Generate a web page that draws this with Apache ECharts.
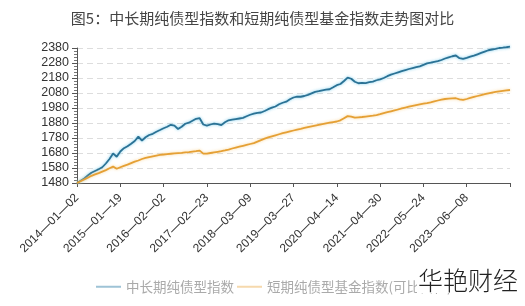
<!DOCTYPE html>
<html><head><meta charset="utf-8">
<script src="https://cdn.jsdelivr.net/npm/echarts@6/dist/echarts.min.js"></script>
<style>html,body{margin:0;padding:0;background:#fff}#c{width:525px;height:306px}</style>
</head><body><div id="c"></div>
<script>
var titleText = '图5：中长期纯债型指数和短期纯债型基金指数走势图对比';
var seriesNames = ['中长期纯债型指数', '短期纯债型基金指数(可比口径)'];
var tickLabels = ['2014-01-02','2015-01-19','2016-02-02','2017-02-23','2018-03-09','2019-03-27','2020-04-14','2021-04-30','2022-05-24','2023-06-08','2024-06-21'];
var yTicks = [1480,1580,1680,1780,1880,1980,2080,2180,2280,2380];
var longBond = [1480,1495,1510,1530,1548,1560,1572,1585,1610,1640,1677,1655,1690,1712,1725,1742,1760,1789,1762,1785,
1800,1808,1822,1833,1845,1855,1868,1862,1840,1855,1875,1882,1895,1908,1912,1870,1862,1870,1876,1872,
1866,1885,1898,1902,1906,1910,1914,1925,1935,1942,1948,1950,1960,1972,1982,1990,2005,2015,2022,2038,
2050,2056,2055,2060,2068,2078,2088,2092,2098,2102,2105,2118,2132,2140,2160,2182,2175,2155,2145,2148,
2146,2152,2156,2165,2171,2180,2192,2202,2210,2218,2226,2233,2240,2246,2252,2258,2268,2278,2282,2288,
2293,2300,2310,2318,2325,2330,2312,2307,2314,2322,2329,2338,2347,2356,2365,2370,2374,2380,2382,2385,2389];
var shortBond = [1480,1492,1503,1515,1528,1537,1546,1556,1566,1578,1589,1575,1585,1594,1602,1612,1622,1630,1640,1648,
1653,1658,1663,1667,1670,1673,1675,1677,1679,1681,1684,1686,1689,1692,1696,1676,1676,1680,1684,1688,
1692,1697,1703,1710,1716,1722,1728,1734,1740,1746,1756,1766,1776,1784,1791,1798,1805,1812,1818,1824,
1830,1836,1841,1847,1853,1858,1863,1868,1873,1878,1882,1886,1890,1898,1912,1926,1922,1916,1918,1920,
1923,1926,1929,1933,1939,1946,1952,1958,1964,1970,1977,1983,1989,1994,1999,2004,2009,2013,2018,2024,
2030,2036,2040,2042,2044,2045,2038,2034,2040,2047,2054,2060,2066,2072,2078,2083,2087,2091,2094,2097,2100];
var STEP = 12;
var categories = [];
for (var i = 0; i < longBond.length; i++) {
  if (i % STEP === 0) categories.push(tickLabels[i / STEP]);
  else { var y = 2014 + Math.floor(i / 12), m = (i % 12) + 1; categories.push(y + '-' + (m < 10 ? '0' + m : m) + '-15'); }
}
var last = longBond.length - 1;
var chart = echarts.init(document.getElementById('c'), null, {renderer: 'canvas'});
chart.setOption({
  animation: false,
  backgroundColor: '#fff',
  title: {text: titleText, left: 'center', top: 6, textStyle: {fontSize: 15, fontWeight: 'normal', color: '#444', fontFamily: 'Noto Sans CJK SC'}},
  legend: {left: 91, top: 275, itemWidth: 25, itemHeight: 2, itemGap: 3, icon: 'rect',
    textStyle: {fontSize: 13.5, color: '#aaa', fontFamily: 'Noto Sans CJK SC', padding: [0, 0, 0, 0]},
    data: [{name: seriesNames[0], itemStyle: {color: '#9ec3d6'}}, {name: seriesNames[1], itemStyle: {color: '#f6d9ad'}}]},
  grid: {left: 77, right: 15, top: 48, bottom: 123},
  xAxis: {type: 'category', data: categories, boundaryGap: false,
    axisLine: {lineStyle: {color: '#555', width: 1}},
    axisTick: {show: true, length: 4, interval: function (i) { return i % STEP === 0; }, lineStyle: {color: '#555'}},
    axisLabel: {rotate: 45, fontSize: 12, color: '#333', fontFamily: 'Liberation Sans', margin: 13,
      interval: function (i) { return i % STEP === 0 && i < last; },
      formatter: function (v) { return v.replace(/-/g, '—'); }},
    splitLine: {show: false}},
  yAxis: {type: 'value', min: yTicks[0], max: yTicks[yTicks.length - 1], interval: 100,
    axisLine: {show: true, lineStyle: {color: '#555'}},
    axisTick: {show: true, length: 5, lineStyle: {color: '#555'}},
    minorTick: {show: true, splitNumber: 5, length: 3, lineStyle: {color: '#777'}},
    axisLabel: {fontSize: 12.5, color: '#333', fontFamily: 'Liberation Sans', margin: 8,
      formatter: function (v) { return String(v); }},
    splitLine: {show: true, lineStyle: {color: '#ddd', type: [6, 4]}}},
  series: [
    {name: seriesNames[0], type: 'line', data: longBond, showSymbol: false, symbol: 'none', clip: false,
      itemStyle: {color: '#2b7295'},
      lineStyle: {color: '#2b7295', width: 1.8, shadowColor: 'rgba(110,200,235,0.9)', shadowBlur: 3}},
    {name: seriesNames[1], type: 'line', data: shortBond, showSymbol: false, symbol: 'none', clip: false,
      itemStyle: {color: '#e5a035'},
      lineStyle: {color: '#e5a035', width: 1.8, shadowColor: 'rgba(250,210,140,0.9)', shadowBlur: 3}}
  ],
  graphic: [{type: 'text', left: 417, top: 268, z: 100,
    style: {text: '华艳财经', fontSize: 25, fill: '#222', fontFamily: 'Noto Sans CJK SC', fontWeight: 300,
      backgroundColor: '#fff', padding: [0, 4, 0, 1]}}]
});
</script></body></html>
